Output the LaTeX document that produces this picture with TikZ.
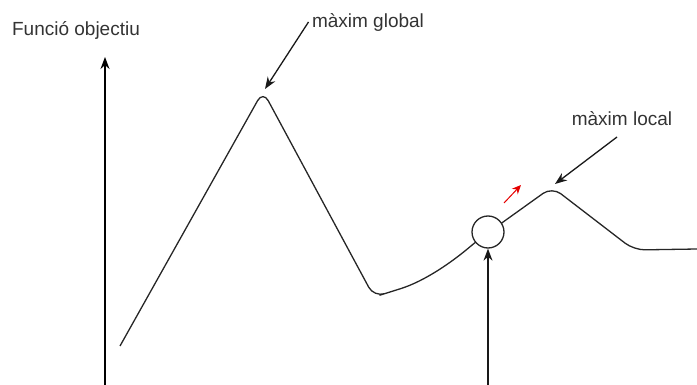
\documentclass[tikz,border=0pt]{standalone}
\usepackage{fontspec}
\setmainfont{Liberation Sans}
\usetikzlibrary{arrows.meta,positioning,calc}

\begin{document}
\begin{tikzpicture}[
  x=1pt, y=-1pt,
  >={Stealth[length=12pt,width=9pt]},
  every node/.style={font=\fontsize{19}{21}\selectfont, text=black!80},
  curve/.style={draw=black!85, line width=1.3pt, rounded corners=11pt},
  statenode/.style={circle, draw=black!85, fill=white, line width=1.3pt, minimum size=32pt, inner sep=0pt},
  pointer/.style={->, draw=black!90, line width=1.3pt},
  axis/.style={->, draw=black, line width=1.5pt},
  step arrow/.style={-{Stealth[length=9pt,width=8pt]}, draw=red!90!black, line width=1pt}
]
  \useasboundingbox (0,0) rectangle (697,385);

  % axis
  \coordinate (axisbot) at (105,385);
  \coordinate (axistop) at (105,57);
  \node (ylabel) at (76,30) {Funció objectiu};
  \draw[axis] (axisbot) -- (axistop);

  % objective function
  \coordinate (start) at (120,346);
  \coordinate (gpeak) at (263,91);
  \coordinate (valley) at (374,297);
  \coordinate (lpeak) at (552,187);
  \coordinate (shoulder) at (634,250);
  \coordinate (finish) at (697,249);
  \draw[curve] (start) -- (gpeak) -- (valley) -- (390,292)
    .. controls (425,281) and (452,262) .. (478,240)
    -- (lpeak) -- (shoulder) -- (finish);

  % current state
  \node[statenode] (actual) at (488,232) {};
  \coordinate (actualbot) at (488,385);
  \draw[pointer] (actualbot) -- (actual.south);

  \coordinate (movefrom) at (504,203);
  \coordinate (moveto) at (521,185);
  \draw[step arrow] (movefrom) -- (moveto);

  % labels
  \node (gtext) at (368,22) {màxim global};
  \coordinate (gtip) at (265,89);
  \draw[pointer] (gtext.west) -- (gtip);

  \node (ltext) at (622,119) {màxim local};
  \coordinate (lfrom) at (617,137);
  \coordinate (ltip) at (555,184);
  \draw[pointer] (lfrom) -- (ltip);
\end{tikzpicture}
\end{document}
